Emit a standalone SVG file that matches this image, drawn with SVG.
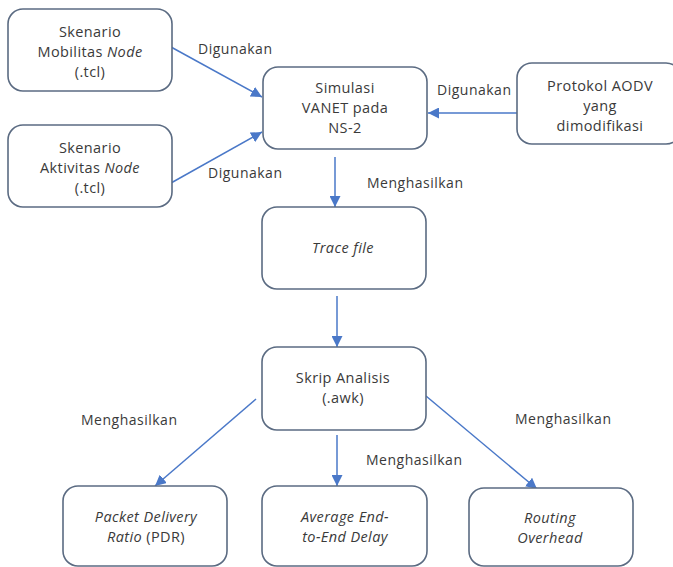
<svg xmlns="http://www.w3.org/2000/svg" width="673" height="567" viewBox="0 0 673 567">
<style>
.box{fill:#fff;stroke:#5b6b82;stroke-width:1.6}
.t{font-family:"Open Sans","Liberation Sans",sans-serif;font-size:14.5px;fill:#3a3a3a;text-anchor:middle;letter-spacing:0.4px}
.lbl{font-family:"Open Sans","Liberation Sans",sans-serif;font-size:14px;fill:#3a3a3a;letter-spacing:0.5px}
.c{stroke:#4a78c8;stroke-width:1.5;fill:none;marker-end:url(#ah)}
</style>
<defs>
<marker id="ah" viewBox="0 0 10 10" refX="10" refY="5" markerWidth="11" markerHeight="11" markerUnits="userSpaceOnUse" orient="auto">
<path d="M0,0 L10,5 L0,10 z" fill="#4a78c8"/>
</marker>
</defs>
<rect width="673" height="567" fill="#fff"/>
<g id="connectors">
<line class="c" x1="171" y1="47" x2="262" y2="97"/>
<line class="c" x1="171" y1="183" x2="262" y2="132"/>
<line class="c" x1="517" y1="113" x2="428" y2="113"/>
<line class="c" x1="335" y1="157" x2="335" y2="207"/>
<line class="c" x1="337" y1="296" x2="337" y2="347"/>
<line class="c" x1="256" y1="399" x2="155" y2="486"/>
<line class="c" x1="337" y1="435" x2="337" y2="486"/>
<line class="c" x1="426" y1="396" x2="537" y2="489"/>
<text class="lbl" x="198" y="54">Digunakan</text>
<text class="lbl" x="208" y="178">Digunakan</text>
<text class="lbl" x="437" y="95">Digunakan</text>
<text class="lbl" x="367" y="188">Menghasilkan</text>
<text class="lbl" x="81" y="425">Menghasilkan</text>
<text class="lbl" x="366" y="465">Menghasilkan</text>
<text class="lbl" x="515" y="424">Menghasilkan</text>
</g>
<g id="mobilitas">
<rect class="box" x="8" y="9" width="164" height="82" rx="15"/>
<text class="t" x="90" y="37">Skenario</text>
<text class="t" x="90" y="57">Mobilitas <tspan font-style="italic">Node</tspan></text>
<text class="t" x="90" y="77">(.tcl)</text>
</g>
<g id="aktivitas">
<rect class="box" x="8" y="125" width="164" height="82" rx="15"/>
<text class="t" x="90" y="153">Skenario</text>
<text class="t" x="90" y="173">Aktivitas <tspan font-style="italic">Node</tspan></text>
<text class="t" x="90" y="193">(.tcl)</text>
</g>
<g id="simulasi">
<rect class="box" x="263" y="67" width="164" height="82" rx="15"/>
<text class="t" x="345" y="93">Simulasi</text>
<text class="t" x="345" y="113">VANET pada</text>
<text class="t" x="345" y="133">NS-2</text>
</g>
<g id="protokol">
<rect class="box" x="517" y="63" width="164" height="81" rx="15"/>
<text class="t" x="600" y="91">Protokol AODV</text>
<text class="t" x="600" y="111">yang</text>
<text class="t" x="600" y="131">dimodifikasi</text>
</g>
<g id="trace">
<rect class="box" x="262" y="207" width="164" height="82" rx="15"/>
<text class="t" x="343" y="253" font-style="italic">Trace file</text>
</g>
<g id="skrip">
<rect class="box" x="262" y="347" width="164" height="83" rx="15"/>
<text class="t" x="343" y="383">Skrip Analisis</text>
<text class="t" x="343" y="403">(.awk)</text>
</g>
<g id="pdr">
<rect class="box" x="63" y="486" width="164" height="80" rx="15"/>
<text class="t" x="146" y="522"><tspan font-style="italic">Packet Delivery</tspan></text>
<text class="t" x="146" y="542"><tspan font-style="italic">Ratio</tspan> (PDR)</text>
</g>
<g id="delay">
<rect class="box" x="262" y="486" width="165" height="80" rx="15"/>
<text class="t" x="345" y="522" font-style="italic">Average End-</text>
<text class="t" x="345" y="542" font-style="italic">to-End Delay</text>
</g>
<g id="routing">
<rect class="box" x="469" y="488" width="164" height="78" rx="15"/>
<text class="t" x="550" y="523" font-style="italic">Routing</text>
<text class="t" x="550" y="543" font-style="italic">Overhead</text>
</g>
</svg>
